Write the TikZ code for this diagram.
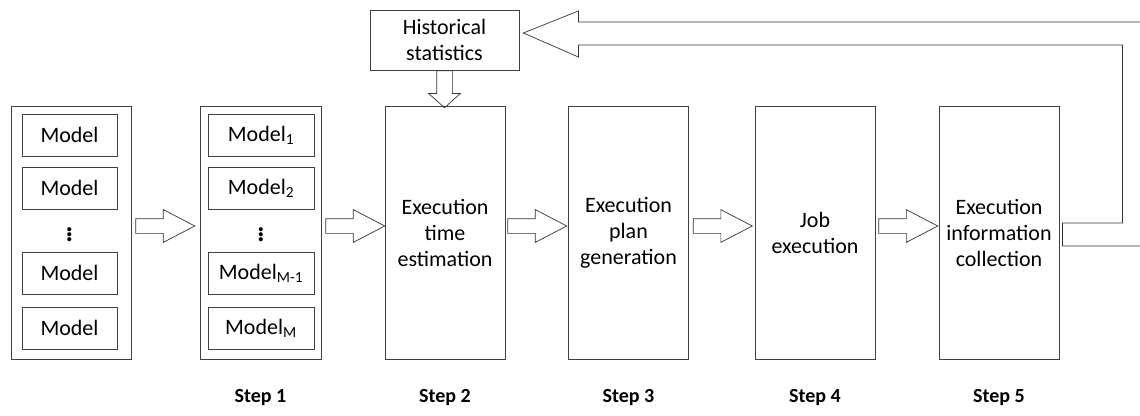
\documentclass[tikz,border=0pt]{standalone}
\usepackage{fontspec}
\setmainfont{Carlito}
\usetikzlibrary{shapes.arrows,calc}

\tikzset{
  stagebox/.style={draw=black!75, line width=0.8pt, minimum width=120pt, minimum height=253pt,
    inner sep=0pt, align=center, font=\fontsize{22}{26}\selectfont},
  modelbox/.style={draw=black!75, line width=0.8pt, minimum height=42pt, inner sep=0pt,
    font=\fontsize{22}{26}\selectfont},
  dotsmark/.style={inner sep=0pt, font=\fontsize{34}{34}\selectfont},
  histbox/.style={draw=black!75, line width=0.8pt, minimum width=149pt, minimum height=60pt,
    inner sep=0pt, align=center, font=\fontsize{22}{26}\selectfont},
  hollowarrow/.style={single arrow, draw=black!80, line width=0.7pt, single arrow head indent=0pt,
    single arrow head extend=9pt, single arrow tip angle=55, inner xsep=0pt, inner ysep=7pt,
    minimum height=59pt, anchor=tail},
  downarrow/.style={hollowarrow, shape border rotate=270, single arrow head extend=8pt,
    single arrow tip angle=96, inner xsep=7.5pt, inner ysep=0pt, minimum height=37pt},
  steplabel/.style={font=\bfseries\fontsize{20}{24}\selectfont}
}

\begin{document}
\begin{tikzpicture}[x=1pt, y=-1pt]
\useasboundingbox (0,0) rectangle (1140,415);
\clip (0,0) rectangle (1140,415);

% input models
\node[stagebox] (models0) at (71,232.5) {};
\node[modelbox, minimum width=95pt] (m01) at (69.5,135) {Model};
\node[modelbox, minimum width=95pt] (m02) at (69.5,188) {Model};
\node[dotsmark] (m0dots) at (69.5,232) {$\vdots$};
\node[modelbox, minimum width=95pt] (m03) at (69.5,273) {Model};
\node[modelbox, minimum width=95pt] (m04) at (69.5,328) {Model};

% step 1
\node[stagebox, minimum width=121pt] (models1) at (260.5,232.5) {};
\node[modelbox, minimum width=106pt] (m11) at (261,135) {Model\textsubscript{1}};
\node[modelbox, minimum width=106pt] (m12) at (261,188) {Model\textsubscript{2}};
\node[dotsmark] (m1dots) at (261,232) {$\vdots$};
\node[modelbox, minimum width=106pt] (m13) at (261,273) {Model\textsubscript{M-1}};
\node[modelbox, minimum width=106pt] (m14) at (261,328) {Model\textsubscript{M}};

% steps 2 to 5
\node[stagebox] (est) at (445,232.5) {Execution\\time\\estimation};
\node[stagebox] (plan) at (628.5,232.5) {Execution\\plan\\generation};
\node[stagebox] (job) at (815,232.5) {Job\\execution};
\node[stagebox] (collect) at (999,232.5) {Execution\\information\\collection};

\node[histbox] (hist) at (444.5,40) {Historical\\statistics};

% arrows between the steps
\node[hollowarrow] (a01) at ($(models0.east)+(4,-6.5)$) {};
\node[hollowarrow] (a12) at ($(models1.east)+(4,-6.5)$) {};
\node[hollowarrow] (a23) at ($(est.east)+(2,-6.5)$) {};
\node[hollowarrow] (a34) at ($(plan.east)+(4,-6.5)$) {};
\node[hollowarrow] (a45) at ($(job.east)+(3,-6.5)$) {};
\node[downarrow] (ahist) at (hist.south) {};

% feedback to the statistics
\draw[draw=black!80, line width=0.7pt] ($(hist.east)+(4,-7)$) coordinate (fbtip)
  -- ++(55,-22) -- ++(0,11) -- ++(567,0) -- ++(0,224) -- ++(-83,0)
  -- ++(0,-23) -- ++(60,0) -- ++(0,-178) -- ++(-544,0) -- ++(0,12) -- cycle;

% step labels
\node[steplabel] (s1) at ($(models1.south)+(0,38)$) {Step 1};
\node[steplabel] (s2) at ($(est.south)+(0,38)$) {Step 2};
\node[steplabel] (s3) at ($(plan.south)+(0,38)$) {Step 3};
\node[steplabel] (s4) at ($(job.south)+(0,38)$) {Step 4};
\node[steplabel] (s5) at ($(collect.south)+(0,38)$) {Step 5};
\end{tikzpicture}
\end{document}
